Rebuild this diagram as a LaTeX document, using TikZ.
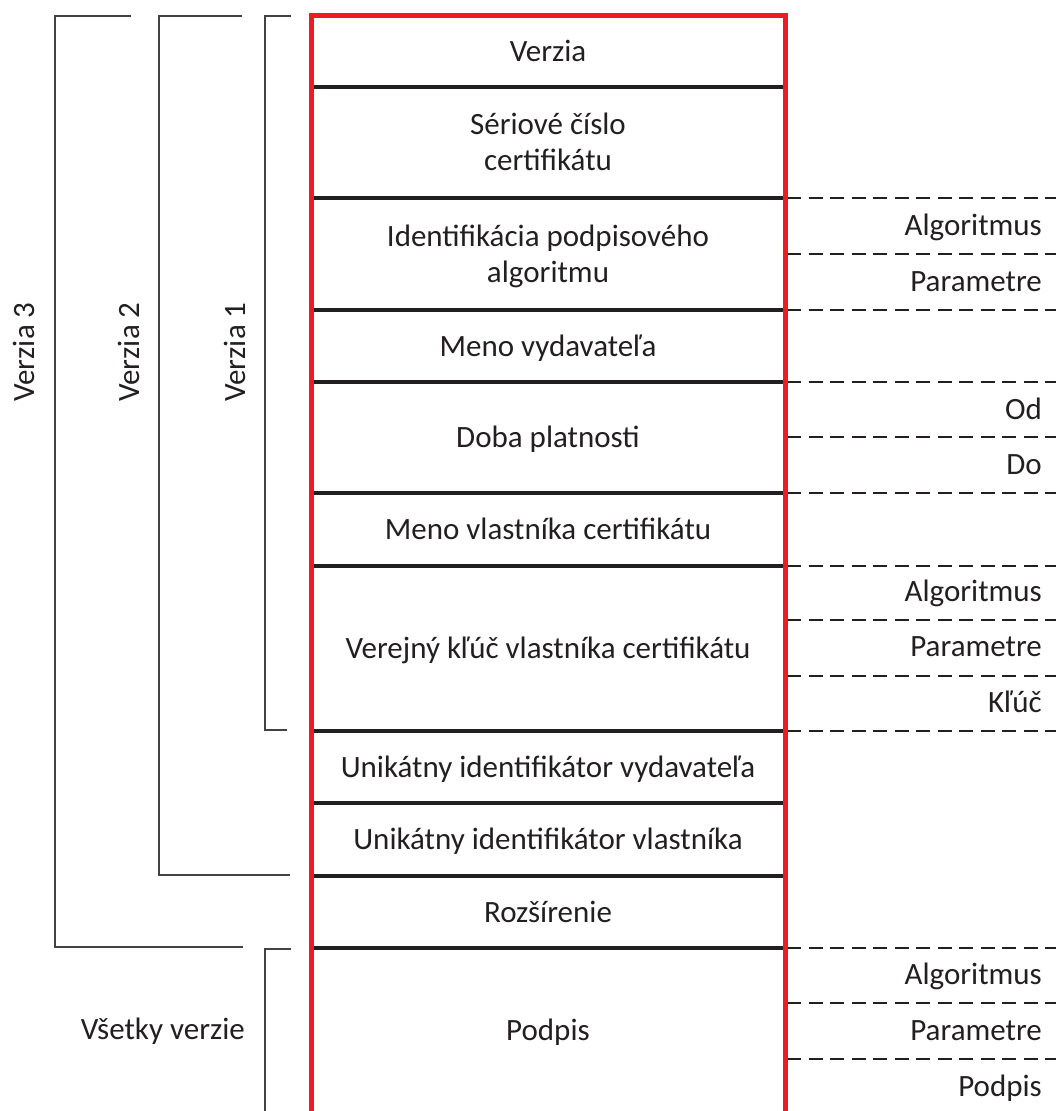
\documentclass[tikz,border=0pt]{standalone}
\usepackage{fontspec}
\setmainfont{Carlito}
\definecolor{txt}{HTML}{231F20}
\definecolor{certred}{HTML}{ED1C24}
\begin{document}
\begin{tikzpicture}[x=1pt,y=-1pt,
  rowline/.style={line width=3.3pt, draw=txt},
  frame/.style={line width=5pt, draw=certred, line join=miter},
  bracket/.style={line width=1.7pt, draw=txt!85},
  subline/.style={line width=2.8pt, draw=txt, dash pattern=on 14pt off 7.5pt},
  field/.style={font=\fontsize{31}{36}\selectfont, text=txt, align=center, inner sep=0pt, anchor=base},
  part/.style={font=\fontsize{31}{36}\selectfont, text=txt, inner sep=0pt, anchor=base east},
  version/.style={font=\fontsize{31}{36}\selectfont, text=txt, inner sep=0pt, rotate=90}
]
\useasboundingbox (0,0) rectangle (1059,1111);

% row separators inside the certificate frame
\foreach \y in {87,198,310,382,493,566,731,803,876,948}
  \draw[rowline] (311,\y) -- (785,\y);

% dashed sub-field separators on the right
\foreach \y in {198,254,310,382,437,493,566,620,676,731,948,1003,1059}
  \draw[subline] (787,\y) -- (1056,\y);

% certificate frame
\draw[frame] (311,1111) -- (311,15) -- (785,15) -- (785,1111);

% certificate fields (multi-line nodes sit on the baseline of their last line)
\node[field] (ver)  at (548,61)   {Verzia};
\node[field] (ser)  at (548,170)  {Sériové číslo\\certifikátu};
\node[field] (alg)  at (548,282)  {Identifikácia podpisového\\algoritmu};
\node[field] (iss)  at (548,356)  {Meno vydavateľa};
\node[field] (val)  at (548,447)  {Doba platnosti};
\node[field] (subj) at (548,539)  {Meno vlastníka certifikátu};
\node[field] (pk)   at (548,658)  {Verejný kľúč vlastníka certifikátu};
\node[field] (iuid) at (548,777)  {Unikátny identifikátor vydavateľa};
\node[field] (suid) at (548,849)  {Unikátny identifikátor vlastníka};
\node[field] (ext)  at (548,922)  {Rozšírenie};
\node[field] (sig)  at (548,1040) {Podpis};

% sub-field labels
\node[part] (algA) at (1042,235)  {Algoritmus};
\node[part] (algP) at (1042,291)  {Parametre};
\node[part] (valF) at (1042,419)  {Od};
\node[part] (valT) at (1042,474)  {Do};
\node[part] (pkA)  at (1042,601)  {Algoritmus};
\node[part] (pkP)  at (1042,656)  {Parametre};
\node[part] (pkK)  at (1042,712)  {Kľúč};
\node[part] (sigA) at (1042,984)  {Algoritmus};
\node[part] (sigP) at (1042,1040) {Parametre};
\node[part] (sigS) at (1042,1096) {Podpis};

% version brackets
\draw[bracket] (131,16) -- (55,16) -- (55,947) -- (243,947);
\draw[bracket] (242,16) -- (159,16) -- (159,875) -- (290,875);
\draw[bracket] (291,16) -- (265,16) -- (265,730) -- (287,730);
\draw[bracket] (291,949) -- (265,949) -- (265,1111);

\node[version] (v3) at (24,352)  {Verzia 3};
\node[version] (v2) at (129,352) {Verzia 2};
\node[version] (v1) at (235,352) {Verzia 1};
\node[part] (all) at (245,1039) {Všetky verzie};
\end{tikzpicture}
\end{document}
